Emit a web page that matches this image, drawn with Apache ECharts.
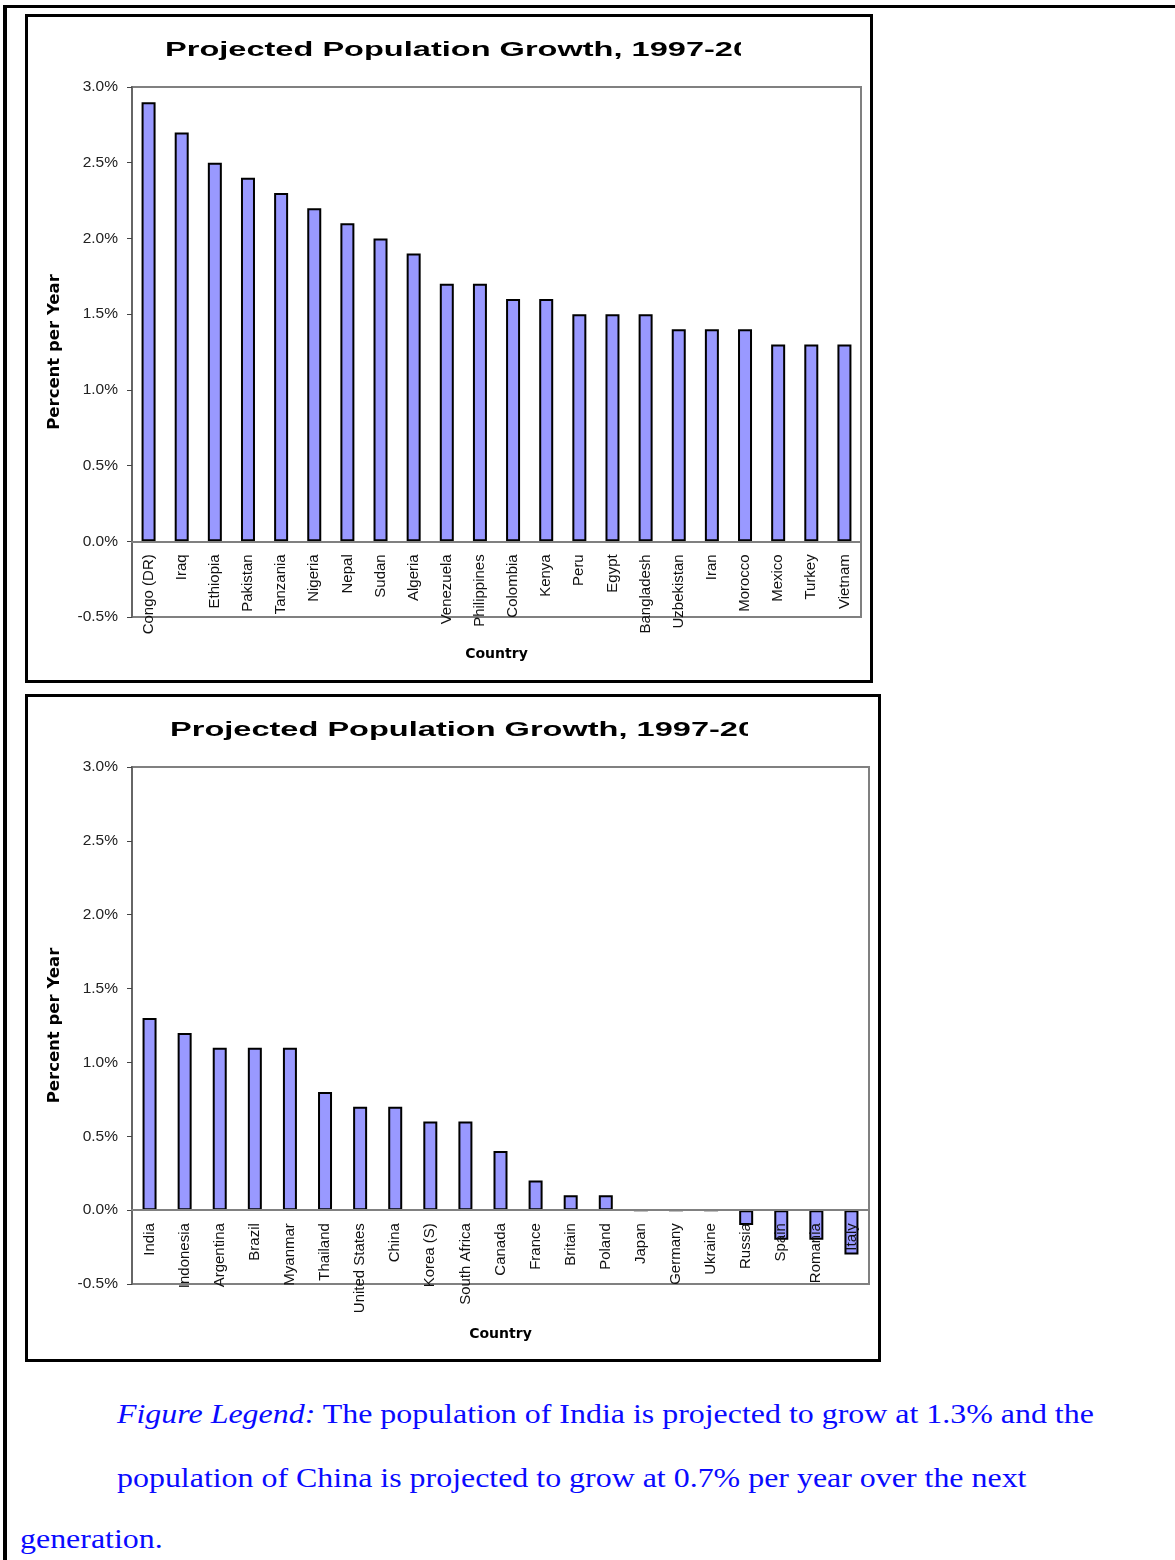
<!DOCTYPE html>
<html>
<head>
<meta charset="utf-8">
<script src="https://cdn.jsdelivr.net/npm/echarts@6/dist/echarts.min.js"></script>
<style>
  html, body { margin: 0; padding: 0; background: #fff; }
  body { width: 1175px; height: 1560px; position: relative; overflow: hidden; }
  #frame { position: absolute; left: 3px; top: 5px; width: 1172px; height: 1560px;
           border-top: 3px solid #000; border-left: 4px solid #000; box-sizing: border-box; }
  #chart { position: absolute; left: 0; top: 0; width: 1175px; height: 1370px; }
  .cap { position: absolute; white-space: nowrap; font-family: "Liberation Serif", "Times New Roman", serif;
         font-size: 28px; line-height: 28px; color: #0a0aff; transform: scaleX(1.14); transform-origin: 0 0; }
</style>
</head>
<body>
<div id="frame"></div>
<div id="chart"></div>
<div class="cap" style="left:117px; top:1400px;"><i>Figure Legend:</i> The population of India is projected to grow at 1.3% and the</div>
<div class="cap" style="left:117px; top:1464px;">population of China is projected to grow at 0.7% per year over the next</div>
<div class="cap" style="left:20px; top:1525px;">generation.</div>
<script>
// Projected annual population growth (% per year)
const countriesHigh = ['Congo (DR)', 'Iraq', 'Ethiopia', 'Pakistan', 'Tanzania', 'Nigeria', 'Nepal', 'Sudan',
  'Algeria', 'Venezuela', 'Philippines', 'Colombia', 'Kenya', 'Peru', 'Egypt', 'Bangladesh', 'Uzbekistan',
  'Iran', 'Morocco', 'Mexico', 'Turkey', 'Vietnam'];
const growthHigh = [2.9, 2.7, 2.5, 2.4, 2.3, 2.2, 2.1, 2.0, 1.9, 1.7, 1.7, 1.6, 1.6, 1.5, 1.5, 1.5, 1.4,
  1.4, 1.4, 1.3, 1.3, 1.3];

const countriesLow = ['India', 'Indonesia', 'Argentina', 'Brazil', 'Myanmar', 'Thailand', 'United States',
  'China', 'Korea (S)', 'South Africa', 'Canada', 'France', 'Britain', 'Poland', 'Japan', 'Germany',
  'Ukraine', 'Russia', 'Spain', 'Romania', 'Italy'];
const growthLow = [1.3, 1.2, 1.1, 1.1, 1.1, 0.8, 0.7, 0.7, 0.6, 0.6, 0.4, 0.2, 0.1, 0.1, 0, 0,
  0, -0.1, -0.2, -0.2, -0.3];

const yTicks = { min: -0.5, max: 3.0, interval: 0.5 };
const titleText = 'Projected Population Growth, 1997-20';
const yName = 'Percent per Year';
const xName = 'Country';

const chart = echarts.init(document.getElementById('chart'), null, { renderer: 'canvas' });

const labelFont = '"Liberation Sans", Arial, sans-serif';
const boldFont = '"DejaVu Sans", "Liberation Sans", sans-serif';

const grids = [
  { left: 132, top: 87, width: 729, height: 530 },
  { left: 132, top: 767, width: 737, height: 517 }
];

// distance from the bottom of a grid up to its zero line
function zeroLift(g) {
  return g.height * (0 - yTicks.min) / (yTicks.max - yTicks.min);
}

function xAxisFor(idx, cats, gap) {
  return {
    type: 'category', gridIndex: idx, data: cats, z: 3,
    position: 'bottom', offset: -zeroLift(grids[idx]),
    axisLine: { onZero: false, lineStyle: { color: '#808080', width: 2 } },
    axisTick: { show: false },
    axisLabel: { interval: 0, rotate: 90, margin: 13, color: '#111', fontFamily: labelFont, fontSize: 15 },
    splitLine: { show: false },
    name: xName, nameLocation: 'middle', nameGap: gap,
    nameTextStyle: { fontFamily: boldFont, fontWeight: 'bold', fontSize: 14, color: '#000' }
  };
}
function yAxisFor(idx) {
  return {
    type: 'value', gridIndex: idx, min: yTicks.min, max: yTicks.max, interval: yTicks.interval,
    axisLine: { show: true, lineStyle: { color: '#666', width: 2 } },
    axisTick: { show: true, length: 5, lineStyle: { color: '#444', width: 1 } },
    axisLabel: { margin: 14, color: '#222', fontFamily: labelFont, fontSize: 15.5,
      formatter: v => v.toFixed(1) + '%' },
    splitLine: { show: false },
    name: yName, nameLocation: 'middle', nameRotate: 90, nameGap: 69,
    nameTextStyle: { fontFamily: boldFont, fontWeight: 'bold', fontSize: 16.5, color: '#000' }
  };
}
function barSeries(idx, vals) {
  return {
    type: 'bar', xAxisIndex: idx, yAxisIndex: idx, data: vals, barWidth: 14, z: 2,
    itemStyle: { color: '#9999ff', borderColor: '#000', borderWidth: 2 },
    emphasis: { disabled: true }
  };
}
function titleGraphic(x, y, clipX, clipRight) {
  return [
    { type: 'text', x: x, y: y, scaleX: 1.55, z: 10,
      style: { text: titleText, font: 'bold 21px "Liberation Sans", Arial, sans-serif',
               fill: '#000', textVerticalAlign: 'middle' } },
    { type: 'rect', z: 11, shape: { x: clipX, y: y - 18, width: clipRight - clipX, height: 36 },
      style: { fill: '#fff' } }
  ];
}

chart.setOption({
  animation: false,
  grid: grids.map(g => Object.assign({}, g, {
    show: true, borderColor: '#808080', borderWidth: 2, backgroundColor: '#fff',
    containLabel: false, outerBoundsMode: 'none'
  })),
  xAxis: [xAxisFor(0, countriesHigh, 106), xAxisFor(1, countriesLow, 117)],
  yAxis: [yAxisFor(0), yAxisFor(1)],
  series: [barSeries(0, growthHigh), barSeries(1, growthLow)],
  graphic: [
    { type: 'rect', z: 20, shape: { x: 26.5, y: 15.5, width: 845, height: 666 },
      style: { fill: 'none', stroke: '#000', lineWidth: 3 } },
    { type: 'rect', z: 20, shape: { x: 26.5, y: 695.5, width: 853, height: 665 },
      style: { fill: 'none', stroke: '#000', lineWidth: 3 } },
    ...titleGraphic(165, 50, 741, 868),
    ...titleGraphic(170, 730, 748, 876)
  ]
});
</script>
</body>
</html>
